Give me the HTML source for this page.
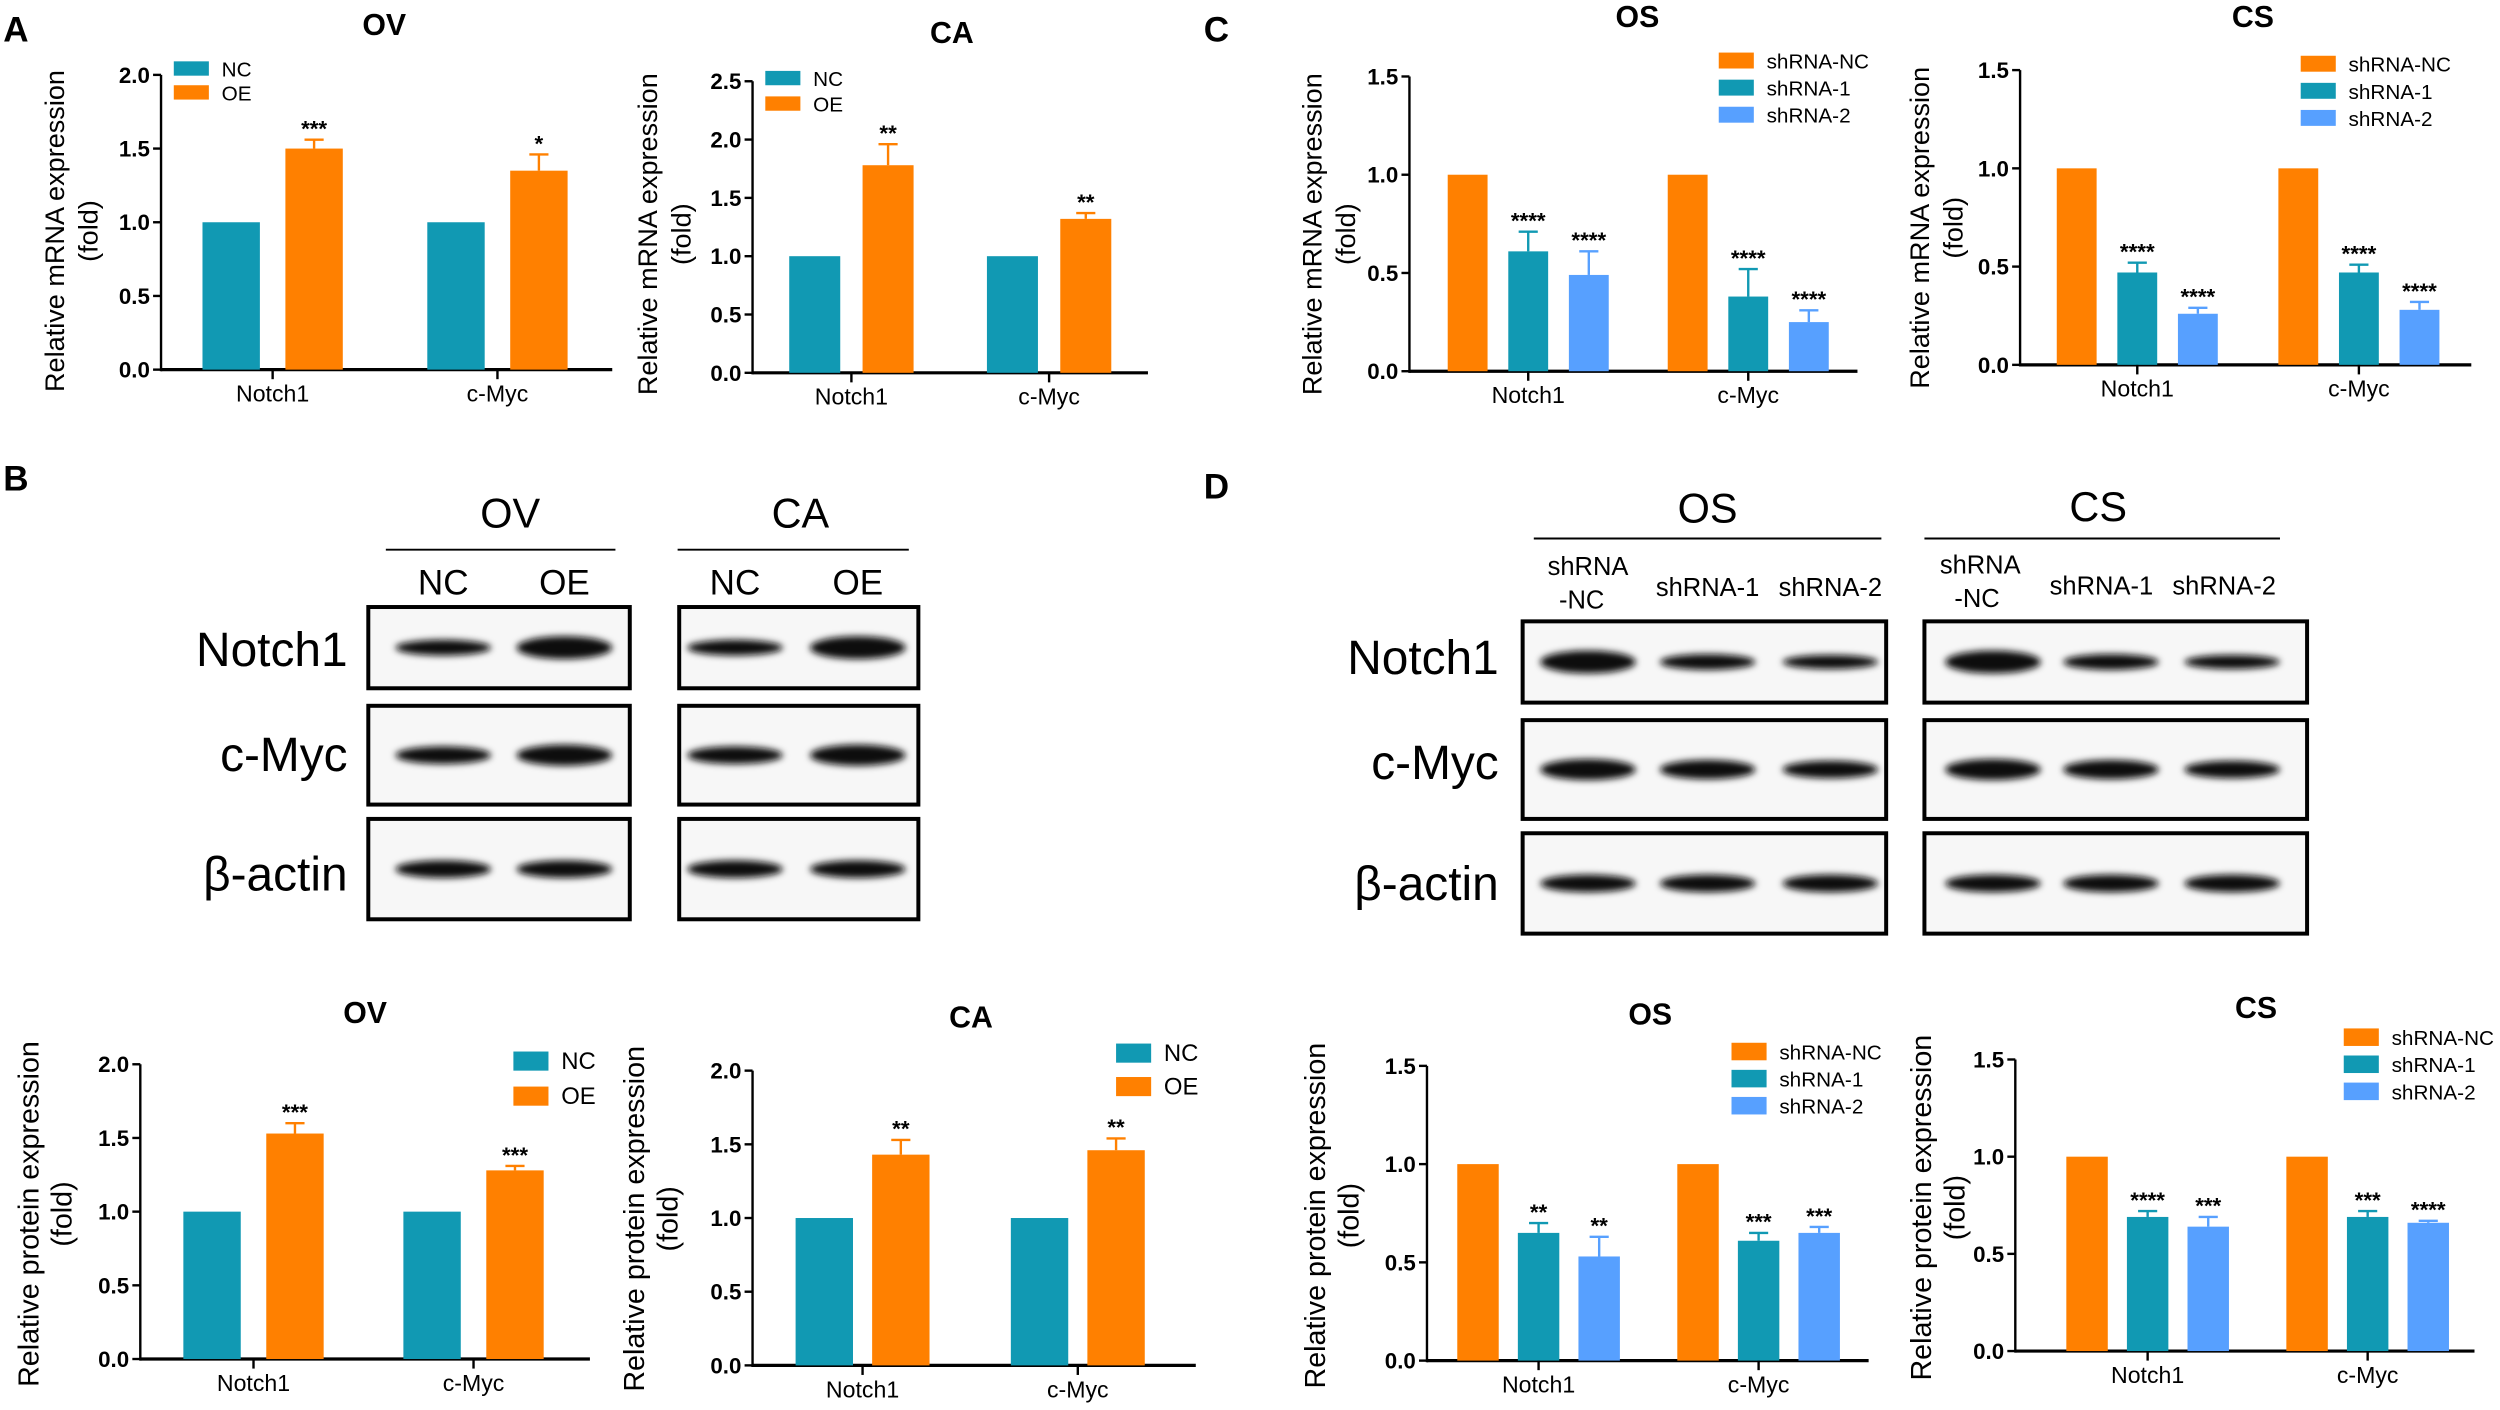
<!DOCTYPE html>
<html><head><meta charset="utf-8">
<style>
html,body{margin:0;padding:0;background:#fff;}
svg{display:block;font-family:"Liberation Sans",Arial,sans-serif;}
.n{font-family:"Liberation Sans Narrow","Liberation Sans",sans-serif;}
</style></head>
<body>
<svg id="fig" width="2500" height="1410" viewBox="0 0 1568 885" preserveAspectRatio="none" xmlns="http://www.w3.org/2000/svg">
<defs><filter id="blur" x="-20%" y="-100%" width="140%" height="300%"><feGaussianBlur stdDeviation="2.2"/></filter></defs>
<g font-weight="bold" font-size="22">
<text x="2" y="26">A</text><text x="2" y="308">B</text><text x="755" y="26">C</text><text x="755" y="313">D</text>
</g>
<g id="charts"></g>
<g id="blots"></g>
</svg>
<script>
const NS='http://www.w3.org/2000/svg';
const C_TEAL='#1199b3',C_OR='#ff8000',C_BL='#57a0ff';
// ---- data ----
const catsAll=['Notch1','c-Myc'];
const aovNC=[1,1], aovOE=[1.50,1.35], aovOEerr=[0.06,0.11], aovSig=['***','*'];
const acaNC=[1,1], acaOE=[1.78,1.32], acaOEerr=[0.18,0.05], acaSig=['**','**'];
const cosNC=[1,1], cosS1=[0.61,0.38], cosS2=[0.49,0.25], cosS1err=[0.10,0.14], cosS2err=[0.12,0.06];
const cosSig1=['****','****'], cosSig2=['****','****'];
const ccsNC=[1,1], ccsS1=[0.47,0.47], ccsS2=[0.26,0.28], ccsS1err=[0.05,0.04], ccsS2err=[0.03,0.04];
const ccsSig1=['****','****'], ccsSig2=['****','****'];
const bovNC=[1,1], bovOE=[1.53,1.28], bovOEerr=[0.07,0.03], bovSig=['***','***'];
const bcaNC=[1,1], bcaOE=[1.43,1.46], bcaOEerr=[0.10,0.08], bcaSig=['**','**'];
const dosNC=[1,1], dosS1=[0.65,0.61], dosS2=[0.53,0.65], dosS1err=[0.05,0.04], dosS2err=[0.10,0.03];
const dosSig1=['**','***'], dosSig2=['**','***'];
const dcsNC=[1,1], dcsS1=[0.69,0.69], dcsS2=[0.64,0.66], dcsS1err=[0.03,0.03], dcsS2err=[0.05,0.01];
const dcsSig1=['****','***'], dcsSig2=['***','****'];
const ticks20=['0.0','0.5','1.0','1.5','2.0'], ticks25=['0.0','0.5','1.0','1.5','2.0','2.5'], ticks15=['0.0','0.5','1.0','1.5'];
const legOE=['NC','OE'], legSh=['shRNA-NC','shRNA-1','shRNA-2'];

function el(tag,attrs,parent,text){const e=document.createElementNS(NS,tag);for(const k in attrs)e.setAttribute(k,attrs[k]);if(text!==undefined)e.textContent=text;(parent||document.getElementById('charts')).appendChild(e);return e;}

function chart(cfg){
  const g=el('g',{});
  
  
  const ymax=parseFloat(cfg.ticks[cfg.ticks.length-1]);
  const y=v=>cfg.y0-(cfg.y0-cfg.yTop)*v/ymax;
  const t=el('text',{x:cfg.tx,y:cfg.ty,'font-size':19,'font-weight':'bold','text-anchor':'middle',class:'n'},g,cfg.title);
  
  
  el('line',{x1:cfg.ax,y1:cfg.yTop,x2:cfg.ax,y2:cfg.y0+1,stroke:'#000','stroke-width':1.5},g);
  el('line',{x1:cfg.ax,y1:cfg.y0,x2:cfg.xEnd,y2:cfg.y0,stroke:'#000','stroke-width':2},g);
  cfg.ticks.forEach(tk=>{const v=parseFloat(tk);const yy=y(v);
    el('line',{x1:cfg.ax-5,y1:yy,x2:cfg.ax,y2:yy,stroke:'#000','stroke-width':1.5},g);
    const tl=el('text',{x:cfg.ax-7,y:yy+5,'font-size':14,'font-weight':'bold','text-anchor':'end',class:'n'},g,tk);
    
    
  });
  const yt=el('text',{transform:`translate(${cfg.ytx},${cfg.ytc||(cfg.y0-(cfg.y0-cfg.yTop)/2)}) rotate(-90)`,'font-size':cfg.yfs||17,'text-anchor':'middle'},g);
  
  
  el('tspan',{x:0,dy:0},yt,cfg.ylabel);
  el('tspan',{x:0,dy:21},yt,'(fold)');
  cfg.series.forEach((s,si)=>{
    cfg.cats.forEach((c,ci)=>{
      const x0=cfg.groupX[ci]+si*cfg.step;
      const v=s.vals[ci];
      if(s.err){const e=s.err[ci];
        el('line',{x1:x0+cfg.bw/2,y1:y(v),x2:x0+cfg.bw/2,y2:y(v+e),stroke:s.color,'stroke-width':1.5},g);
        el('line',{x1:x0+cfg.bw/2-6,y1:y(v+e),x2:x0+cfg.bw/2+6,y2:y(v+e),stroke:s.color,'stroke-width':1.5},g);
      }
      const r=el('rect',{x:x0,y:y(v),width:cfg.bw,height:cfg.y0-y(v),fill:s.color},g);
      
      
      if(s.sig){const st=el('text',{x:x0+cfg.bw/2,y:y(v+(s.err?s.err[ci]:0))-2,'font-size':14,'font-weight':'bold','text-anchor':'middle'},g,s.sig[ci]);
        
        }
    });
  });
  cfg.cats.forEach((c,ci)=>{
    const cx=cfg.groupX[ci]+(cfg.series.length*cfg.step-(cfg.step-cfg.bw))/2;
    el('line',{x1:cx,y1:cfg.y0,x2:cx,y2:cfg.y0+6,stroke:'#000','stroke-width':1.5},g);
    const xl=el('text',{x:cx,y:cfg.y0+20,'font-size':14.5,'text-anchor':'middle',class:'n'},g,c);
    
    
  });
  cfg.series.forEach((s,si)=>{
    const ly=cfg.ly+si*cfg.lstep;
    const lg=el('g',{},g);
    
    
    el('rect',{x:cfg.lx,y:ly-cfg.lh/2,width:22,height:cfg.lh,fill:s.color},lg);
    el('text',{x:cfg.lx+30,y:ly+5,'font-size':cfg.lfs,class:'n'},lg,s.label);
  });
}
const mRNA='Relative mRNA expression', prot='Relative protein expression';
chart({name:'chart-a-ov',title:'OV',tx:241,ty:22,ax:101,y0:232,yTop:47,xEnd:384,ticks:ticks20,ytx:40,ytc:145,ylabel:mRNA,cats:catsAll,groupX:[127,268],bw:36,step:52,
 series:[{label:legOE[0],color:C_TEAL,vals:aovNC},{label:legOE[1],color:C_OR,vals:aovOE,err:aovOEerr,sig:aovSig}],lx:109,ly:43,lstep:15,lh:9,lfs:13});
chart({name:'chart-a-ca',title:'CA',tx:597,ty:27,ax:472,y0:234,yTop:51,xEnd:720,ticks:ticks25,ytx:412,ytc:147,ylabel:mRNA,cats:catsAll,groupX:[495,619],bw:32,step:46,
 series:[{label:legOE[0],color:C_TEAL,vals:acaNC},{label:legOE[1],color:C_OR,vals:acaOE,err:acaOEerr,sig:acaSig}],lx:480,ly:49,lstep:16,lh:9,lfs:13});
chart({name:'chart-c-os',title:'OS',tx:1027,ty:17,ax:884,y0:233,yTop:48,xEnd:1165,ticks:ticks15,ytx:829,ytc:147,ylabel:mRNA,cats:catsAll,groupX:[908,1046],bw:25,step:38,
 series:[{label:legSh[0],color:C_OR,vals:cosNC},{label:legSh[1],color:C_TEAL,vals:cosS1,err:cosS1err,sig:cosSig1},{label:legSh[2],color:C_BL,vals:cosS2,err:cosS2err,sig:cosSig2}],lx:1078,ly:38,lstep:17,lh:10,lfs:13});
chart({name:'chart-c-cs',title:'CS',tx:1413,ty:17,ax:1267,y0:229,yTop:44,xEnd:1550,ticks:ticks15,ytx:1210,ytc:143,ylabel:mRNA,cats:catsAll,groupX:[1290,1429],bw:25,step:38,
 series:[{label:legSh[0],color:C_OR,vals:ccsNC},{label:legSh[1],color:C_TEAL,vals:ccsS1,err:ccsS1err,sig:ccsSig1},{label:legSh[2],color:C_BL,vals:ccsS2,err:ccsS2err,sig:ccsSig2}],lx:1443,ly:40,lstep:17,lh:10,lfs:13});
chart({name:'chart-b-ov',title:'OV',tx:229,ty:642,ax:88,y0:853,yTop:668,xEnd:370,ticks:ticks20,ytx:24,ytc:762,yfs:18,ylabel:prot,cats:catsAll,groupX:[115,253],bw:36,step:52,
 series:[{label:legOE[0],color:C_TEAL,vals:bovNC},{label:legOE[1],color:C_OR,vals:bovOE,err:bovOEerr,sig:bovSig}],lx:322,ly:666,lstep:22,lh:12,lfs:15});
chart({name:'chart-b-ca',title:'CA',tx:609,ty:645,ax:472,y0:857,yTop:672,xEnd:750,ticks:ticks20,ytx:404,ytc:765,yfs:18,ylabel:prot,cats:catsAll,groupX:[499,634],bw:36,step:48,
 series:[{label:legOE[0],color:C_TEAL,vals:bcaNC},{label:legOE[1],color:C_OR,vals:bcaOE,err:bcaOEerr,sig:bcaSig}],lx:700,ly:661,lstep:21,lh:12,lfs:15});
chart({name:'chart-d-os',title:'OS',tx:1035,ty:643,ax:895,y0:854,yTop:669,xEnd:1172,ticks:ticks15,ytx:831,ytc:763,yfs:18,ylabel:prot,cats:catsAll,groupX:[914,1052],bw:26,step:38,
 series:[{label:legSh[0],color:C_OR,vals:dosNC},{label:legSh[1],color:C_TEAL,vals:dosS1,err:dosS1err,sig:dosSig1},{label:legSh[2],color:C_BL,vals:dosS2,err:dosS2err,sig:dosSig2}],lx:1086,ly:660,lstep:17,lh:11,lfs:13});
chart({name:'chart-d-cs',title:'CS',tx:1415,ty:639,ax:1264,y0:848,yTop:665,xEnd:1552,ticks:ticks15,ytx:1211,ytc:758,yfs:18,ylabel:prot,cats:catsAll,groupX:[1296,1434],bw:26,step:38,
 series:[{label:legSh[0],color:C_OR,vals:dcsNC},{label:legSh[1],color:C_TEAL,vals:dcsS1,err:dcsS1err,sig:dcsSig1},{label:legSh[2],color:C_BL,vals:dcsS2,err:dcsS2err,sig:dcsSig2}],lx:1470,ly:651,lstep:17,lh:11,lfs:13});

// ---- western blots ----
const B=document.getElementById('blots');
function txt(x,y,s,fs,anchor,name,parent){const t=el('text',{x:x,y:y,'font-size':fs,'text-anchor':anchor||'middle'},parent||B,s);return t;}
function box(x1,x2,y1,y2,lanes,ints,name){
  const g=el('g',{},B);
  
  
  el('rect',{x:x1,y:y1,width:x2-x1,height:y2-y1,fill:'#f7f7f7',stroke:'#000','stroke-width':2.5},g);
  const cy=(y1+y2)/2;
  lanes.forEach((lx,i)=>{el('ellipse',{cx:lx,cy:cy,rx:30,ry:5.5*ints[i],fill:'#111',filter:'url(#blur)'},g);});
}
txt(320,331,'OV',26,'middle','blot-header-ov');txt(502,331,'CA',26,'middle','blot-header-ca');
el('line',{x1:242,y1:345,x2:386,y2:345,stroke:'#000','stroke-width':1.2},B);
el('line',{x1:425,y1:345,x2:570,y2:345,stroke:'#000','stroke-width':1.2},B);
[['NC',278],['OE',354],['NC',461],['OE',538]].forEach(a=>txt(a[1],373,a[0],22,'middle','lane-label'));
const rowsB=[['Notch1',381,432,418],['c-Myc',443,505,484],['β-actin',514,577,559]];
const intsB=[[0.9,1.3],[1,1.2],[1,1]];
rowsB.forEach((r,i)=>{txt(218,r[3],r[0],30,'end','row-label');
  box(231,395,r[1],r[2],[278,354],intsB[i],'blot-ov-'+i);
  box(426,576,r[1],r[2],[461,538],intsB[i],'blot-ca-'+i);});
txt(1071,328,'OS',26,'middle','blot-header-os');txt(1316,327,'CS',26,'middle','blot-header-cs');
el('line',{x1:962,y1:338,x2:1180,y2:338,stroke:'#000','stroke-width':1.2},B);
el('line',{x1:1207,y1:338,x2:1430,y2:338,stroke:'#000','stroke-width':1.2},B);
txt(996,361,'shRNA',16,'middle','lane-label');txt(992,382,'-NC',16,'middle','lane-label');
txt(1242,360,'shRNA',16,'middle','lane-label');txt(1240,381,'-NC',16,'middle','lane-label');
[['shRNA-1',1071],['shRNA-2',1148]].forEach(a=>txt(a[1],374,a[0],16,'middle','lane-label'));
[['shRNA-1',1318],['shRNA-2',1395]].forEach(a=>txt(a[1],373,a[0],16,'middle','lane-label'));
const rowsD=[['Notch1',390,441,423],['c-Myc',452,514,489],['β-actin',523,586,565]];
const intsD=[[1.3,0.9,0.8],[1.2,1.1,1],[1,1,1]];
rowsD.forEach((r,i)=>{txt(940,r[3],r[0],30,'end','row-label');
  box(955,1183,r[1],r[2],[996,1071,1148],intsD[i],'blot-os-'+i);
  box(1207,1447,r[1],r[2],[1250,1324,1400],intsD[i],'blot-cs-'+i);});
</script>
</body></html>
